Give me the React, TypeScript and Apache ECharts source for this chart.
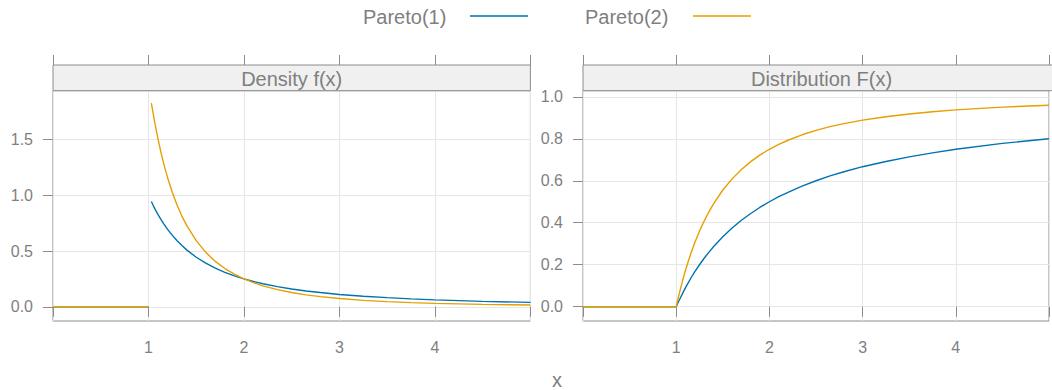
import React, { useEffect, useRef } from "react";
import * as echarts from "echarts";

// ---- data ----
const seriesNames = ["Pareto(1)", "Pareto(2)"];
const panelTitles = ["Density f(x)", "Distribution F(x)"];
const xLabelValues = [1, 2, 3, 4];
const yTicksDensity = [0, 0.5, 1.0, 1.5];
const yTicksCdf = [0, 0.2, 0.4, 0.6, 0.8, 1.0];

// flat part (x < 1) where both density and distribution are 0
const xFlat = [0, 1];
const yFlat = [0, 0];

// density curves (x >= 1)
const xDensity = [1.03, 1.05, 1.07, 1.1, 1.13, 1.16, 1.2, 1.25, 1.3, 1.35, 1.4, 1.5, 1.6, 1.7, 1.8, 1.9, 2.0, 2.1, 2.2, 2.35, 2.5, 2.65, 2.8, 3.0, 3.25, 3.5, 3.75, 4.0, 4.5, 5.0];
const densityP1 = [0.943, 0.907, 0.873, 0.826, 0.783, 0.743, 0.694, 0.64, 0.592, 0.549, 0.51, 0.444, 0.391, 0.346, 0.309, 0.277, 0.25, 0.227, 0.207, 0.181, 0.16, 0.142, 0.128, 0.111, 0.095, 0.082, 0.071, 0.0625, 0.049, 0.04];
const densityP2 = [1.825, 1.728, 1.632, 1.503, 1.386, 1.281, 1.157, 1.024, 0.91, 0.813, 0.729, 0.593, 0.488, 0.407, 0.343, 0.292, 0.25, 0.216, 0.188, 0.154, 0.128, 0.107, 0.091, 0.074, 0.058, 0.047, 0.038, 0.031, 0.022, 0.016];

// distribution curves (x >= 1)
const xCdf = [1.0, 1.02, 1.04, 1.07, 1.1, 1.13, 1.16, 1.2, 1.25, 1.3, 1.35, 1.4, 1.5, 1.6, 1.7, 1.8, 1.9, 2.0, 2.1, 2.2, 2.35, 2.5, 2.65, 2.8, 3.0, 3.25, 3.5, 3.75, 4.0, 4.5, 5.0];
const cdfP1 = [0, 0.02, 0.038, 0.065, 0.091, 0.115, 0.138, 0.167, 0.2, 0.231, 0.259, 0.286, 0.333, 0.375, 0.412, 0.444, 0.474, 0.5, 0.524, 0.545, 0.574, 0.6, 0.623, 0.643, 0.667, 0.692, 0.714, 0.733, 0.75, 0.778, 0.8];
const cdfP2 = [0, 0.039, 0.075, 0.127, 0.174, 0.217, 0.257, 0.306, 0.36, 0.408, 0.451, 0.49, 0.556, 0.609, 0.654, 0.691, 0.723, 0.75, 0.773, 0.793, 0.819, 0.84, 0.858, 0.872, 0.889, 0.905, 0.918, 0.929, 0.9375, 0.951, 0.96];

// ---- styling ----
const COLORS = ["#0072B2", "#E69F00"];
const TEXT = "#7f7f7f";
const AXIS = "#8c8c8c";
const GRIDLINE = "#e6e6e6";
const STRIP = "#f0f0f0";
const FONT = '"Liberation Sans", Arial, Helvetica, sans-serif';

const PANEL_TOP = 90.7;
const PANEL_H = 230.3;
const STRIP_TOP = 65;
const PANELS = [
  { left: 53, width: 477.4, yMin: -0.127, yMax: 1.936, ticks: yTicksDensity },
  { left: 583, width: 477, yMin: -0.068, yMax: 1.029, ticks: yTicksCdf },
];

function buildData(xs: number[], ys: number[], xs2: number[], ys2: number[], gapX: number) {
  const a = xs.map((x, i) => [x, ys[i]]);
  const b = xs2.map((x, i) => [x, ys2[i]]);
  return [...a, [gapX, null], ...b];
}

export default function App() {
  const ref = useRef<HTMLDivElement>(null);

  useEffect(() => {
    if (!ref.current) return;
    const chart = echarts.init(ref.current, undefined, { renderer: "svg" });

    const grids = PANELS.map((p) => ({
      left: p.left,
      top: PANEL_TOP,
      width: p.width,
      height: PANEL_H,
      show: true,
      borderColor: AXIS,
      borderWidth: 1,
      backgroundColor: "transparent",
    }));

    const xAxes: any[] = [];
    PANELS.forEach((_, gi) => {
      xAxes.push({
        gridIndex: gi,
        type: "value",
        min: 0,
        max: 5,
        interval: 1,
        position: "bottom",
        axisLine: { show: false },
        axisTick: { show: true, inside: false, length: 10, lineStyle: { color: AXIS } },
        axisLabel: {
          show: true,
          margin: 18,
          fontSize: 16,
          fontFamily: FONT,
          color: TEXT,
          formatter: (v: number) => (xLabelValues.includes(v) ? String(v) : ""),
        },
        splitLine: { show: true, lineStyle: { color: GRIDLINE, width: 1 } },
      });
      xAxes.push({
        gridIndex: gi,
        type: "value",
        min: 0,
        max: 5,
        interval: 1,
        position: "top",
        offset: PANEL_TOP - STRIP_TOP,
        axisLine: { show: false },
        axisTick: { show: true, inside: false, length: 10, lineStyle: { color: AXIS } },
        axisLabel: { show: false },
        splitLine: { show: false },
      });
    });

    const yAxes = PANELS.map((p, gi) => ({
      gridIndex: gi,
      type: "value",
      min: p.yMin,
      max: p.yMax,
      axisLine: { show: false },
      axisTick: { show: true, inside: false, length: 10, lineStyle: { color: AXIS }, customValues: p.ticks },
      axisLabel: {
        show: true,
        margin: 20,
        fontSize: 16,
        fontFamily: FONT,
        color: TEXT,
        customValues: p.ticks,
        formatter: (v: number) => v.toFixed(1),
      },
      splitLine: { show: true, lineStyle: { color: GRIDLINE, width: 1 } },
    }));

    const lineSeries = (name: string, gi: number, color: string, data: any[]) => ({
      name,
      type: "line",
      xAxisIndex: gi * 2,
      yAxisIndex: gi,
      data,
      showSymbol: false,
      symbol: "none",
      smooth: false,
      connectNulls: false,
      lineStyle: { color, width: 1.4 },
      itemStyle: { color },
    });

    const series = [
      lineSeries(seriesNames[0], 0, COLORS[0], buildData(xFlat, yFlat, xDensity, densityP1, 1.01)),
      lineSeries(seriesNames[1], 0, COLORS[1], buildData(xFlat, yFlat, xDensity, densityP2, 1.01)),
      lineSeries(seriesNames[0], 1, COLORS[0], buildData(xFlat, yFlat, xCdf, cdfP1, 1.0)),
      lineSeries(seriesNames[1], 1, COLORS[1], buildData(xFlat, yFlat, xCdf, cdfP2, 1.0)),
    ];

    const graphics: any[] = [];
    PANELS.forEach((p, i) => {
      graphics.push({
        type: "rect",
        shape: { x: p.left, y: STRIP_TOP, width: p.width, height: PANEL_TOP - STRIP_TOP },
        style: { fill: STRIP, stroke: AXIS, lineWidth: 1 },
        z: 10,
      });
      graphics.push({
        type: "text",
        x: p.left + p.width / 2,
        y: 78.8,
        style: {
          text: panelTitles[i],
          fill: TEXT,
          font: `20px ${FONT}`,
          align: "center",
          verticalAlign: "middle",
        },
        z: 11,
      });
    });
    // legend (text then line sample)
    const legendPos = [
      { tx: 363, lx1: 470, lx2: 528 },
      { tx: 585, lx1: 693, lx2: 751 },
    ];
    legendPos.forEach((lp, i) => {
      graphics.push({
        type: "text",
        x: lp.tx,
        y: 17.4,
        style: { text: seriesNames[i], fill: TEXT, font: `20px ${FONT}`, align: "left", verticalAlign: "middle" },
      });
      graphics.push({
        type: "line",
        shape: { x1: lp.lx1, y1: 16, x2: lp.lx2, y2: 16 },
        style: { stroke: COLORS[i], lineWidth: 1.5 },
      });
    });
    graphics.push({
      type: "text",
      x: 557,
      y: 380,
      style: { text: "x", fill: TEXT, font: `20px ${FONT}`, align: "center", verticalAlign: "middle" },
    });

    chart.setOption({
      animation: false,
      backgroundColor: "#ffffff",
      textStyle: { fontFamily: FONT },
      grid: grids,
      xAxis: xAxes,
      yAxis: yAxes,
      series,
      graphic: { elements: graphics },
    });

    return () => chart.dispose();
  }, []);

  return (
    <div
      ref={ref}
      style={{ position: "absolute", left: 0, top: 0, width: 1052, height: 390 }}
    />
  );
}
